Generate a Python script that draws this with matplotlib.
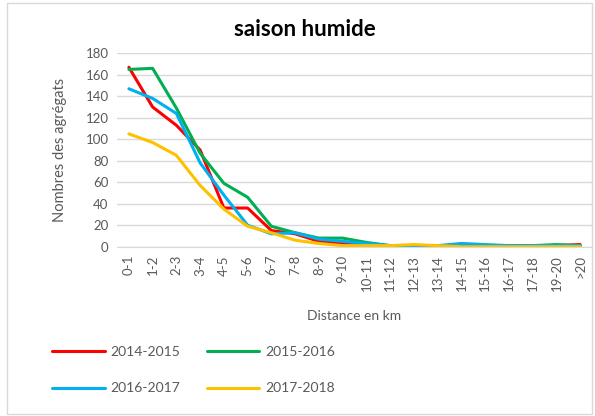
import matplotlib.pyplot as plt
from matplotlib.patches import Rectangle

plt.rcParams['font.family'] = ['Lato', 'DejaVu Sans']

# Catégories de distance (km)
categories = ["0-1", "1-2", "2-3", "3-4", "4-5", "5-6", "6-7", "7-8", "8-9", "9-10",
              "10-11", "11-12", "12-13", "13-14", "14-15", "15-16", "16-17", "17-18",
              "19-20", ">20"]

# Nombres des agrégats par saison
s2014_2015 = [167, 130, 113, 90, 36, 36, 15, 12, 5, 3, 2, 1, 1, 1, 1, 1, 1, 1, 1, 2]
s2015_2016 = [165, 166, 129, 87, 59, 46, 19, 13, 8, 8, 4, 1, 0, 0, 0, 0, 0, 1, 2, 1]
s2016_2017 = [147, 138, 124, 78, 48, 20, 12, 13, 7, 5, 3, 1, 1, 1, 3, 2, 1, 1, 1, 1]
s2017_2018 = [105, 97, 85, 57, 35, 19, 13, 6, 3, 1, 1, 1, 2, 1, 0, 0, 0, 0, 0, 0]

series = [("2014-2015", s2014_2015, "#ff0000"),
          ("2015-2016", s2015_2016, "#00b050"),
          ("2016-2017", s2016_2017, "#00b0f0"),
          ("2017-2018", s2017_2018, "#ffc000")]

W, H = 595, 416
fig = plt.figure(figsize=(W / 100, H / 100), dpi=100)
ax = fig.add_axes([117 / W, 1 - 246.7 / H, (592 - 117) / W, (246.7 - 53.3) / H])

x = range(len(categories))
handles = []
for nom, valeurs, couleur in series:
    h, = ax.plot(x, valeurs, color=couleur, linewidth=2.2, label=nom, solid_capstyle='round')
    handles.append(h)

ax.set_xlim(-0.5, len(categories) - 0.5)
ax.set_ylim(0, 180)
ax.set_yticks(range(0, 181, 20))
ax.set_xticks(list(x))
ax.set_xticklabels(categories, rotation=90)
ax.grid(axis='y', color='#d9d9d9', linewidth=1)
ax.set_axisbelow(True)
for cote in ['top', 'right', 'left']:
    ax.spines[cote].set_visible(False)
ax.spines['bottom'].set_color('#d9d9d9')
ax.tick_params(axis='both', length=0, labelsize=9.5, colors='#595959', pad=6)

fig.text(305 / W, 1 - 30 / H, "saison humide", ha='center', va='center',
         fontsize=16, fontweight='bold', color='black')
fig.text(60 / W, 1 - 150 / H, "Nombres des agrégats", ha='center', va='center',
         rotation=90, fontsize=10.5, color='#595959')
fig.text(354 / W, 1 - 316 / H, "Distance en km", ha='center', va='center',
         fontsize=10, color='#595959')

# legende remplie ligne par ligne comme dans Excel
ordre = [handles[0], handles[2], handles[1], handles[3]]
fig.legend(handles=ordre, ncol=2, loc='center left',
           bbox_to_anchor=(52 / W, 1 - 370 / H), frameon=False, fontsize=10,
           handlelength=3.8, handletextpad=0.4, columnspacing=1.9,
           labelspacing=1.8, borderpad=0, borderaxespad=0, labelcolor='#595959')

fig.patches.append(Rectangle((7 / W, 2 / H), (W - 10) / W, (H - 5) / H,
                             transform=fig.transFigure, fill=False,
                             edgecolor='#d9d9d9', linewidth=1))

fig.savefig("out.png", dpi=100)
